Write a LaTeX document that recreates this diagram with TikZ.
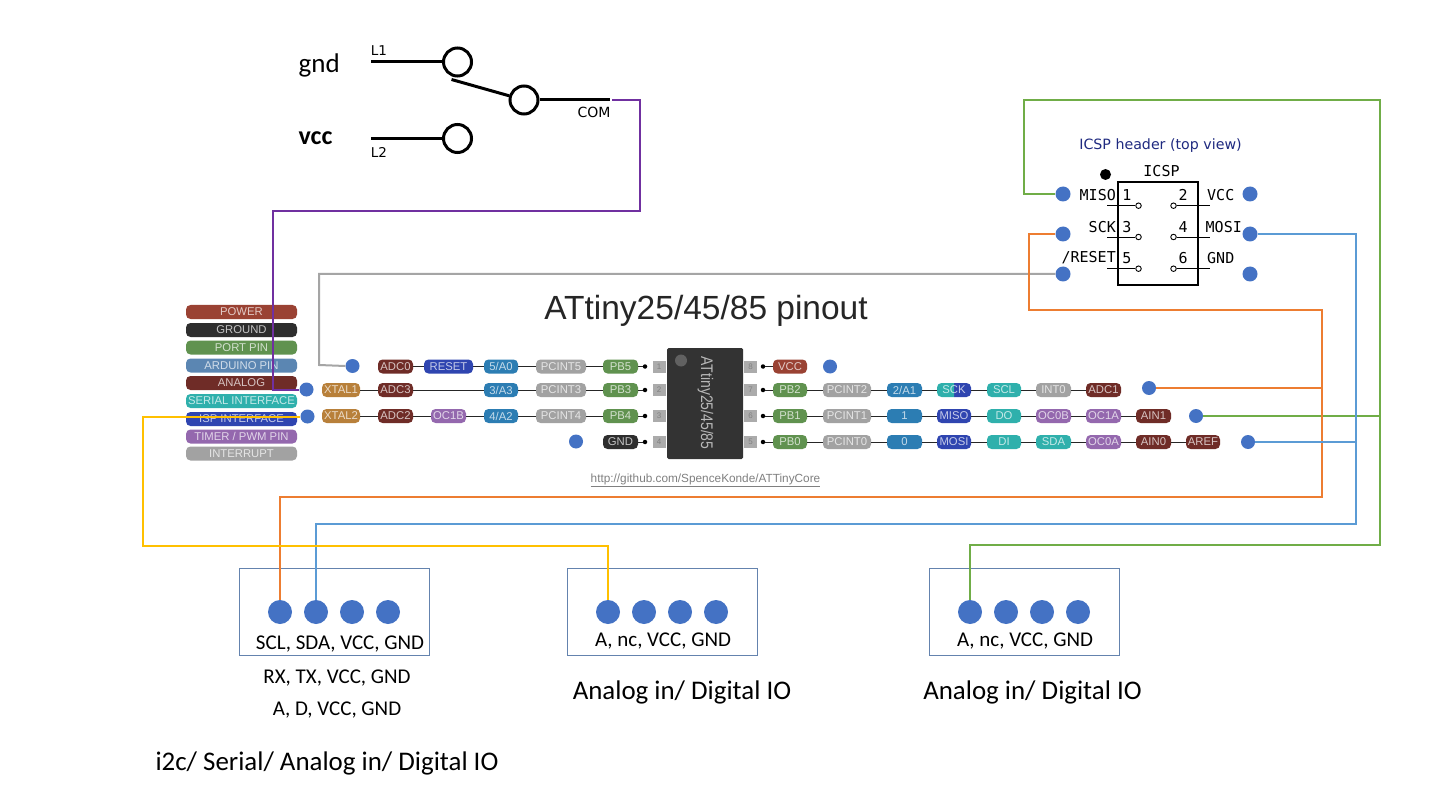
\documentclass[tikz,border=0pt]{standalone}
\usepackage{fontspec}
\setmainfont{Liberation Sans}
\newfontfamily\carl{Carlito}
\newfontfamily\dvs{DejaVu Sans}
\newfontfamily\dvm{DejaVu Sans Mono}
\definecolor{cpower}{HTML}{9A4233}
\definecolor{cground}{HTML}{2E2E2E}
\definecolor{cport}{HTML}{60924F}
\definecolor{carduino}{HTML}{2C7DB3}
\definecolor{clegard}{HTML}{5B86B2}
\definecolor{canalog}{HTML}{6F2C27}
\definecolor{cserial}{HTML}{2FB0AC}
\definecolor{cisp}{HTML}{2F45B0}
\definecolor{ctimer}{HTML}{9468AE}
\definecolor{cint}{HTML}{A2A2A2}
\definecolor{cxtal}{HTML}{B8803A}
\definecolor{cdot}{HTML}{4472C4}
\definecolor{wpurple}{HTML}{7030A0}
\definecolor{wgray}{HTML}{A5A5A5}
\definecolor{wgreen}{HTML}{70AD47}
\definecolor{worange}{HTML}{ED7D31}
\definecolor{wblue}{HTML}{5B9BD5}
\definecolor{wyellow}{HTML}{FFC000}
\definecolor{cbox}{HTML}{6483AE}
\definecolor{cnavy}{HTML}{1F2A80}
\tikzset{
  x=1pt,y=-1pt,
  pill/.style={rounded corners=4.5pt,inner sep=0pt,minimum height=14pt,text=white,text opacity=.72,
     font=\fontsize{11.3}{13}\selectfont},
  wire/.style={line width=2pt,line join=miter},
  rowline/.style={line width=1pt,black!85},
  bdot/.style={circle,fill=cdot,draw=none,inner sep=0pt},
  pindot/.style={circle,fill=black,inner sep=0pt,minimum size=4.5pt},
  pinbox/.style={fill=black!33,inner sep=0pt,minimum width=13pt,minimum height=12pt,text=black!50,font=\fontsize{8}{9}\selectfont},
  sw/.style={circle,draw=black,line width=3pt,fill=none,inner sep=0pt,minimum size=28pt},
  swline/.style={line width=3pt,black},
  hole/.style={circle,draw=black,line width=.9pt,fill=white,inner sep=0pt,minimum size=5.5pt},
  pinlead/.style={line width=.9pt,black},
  mono/.style={inner sep=0pt,font=\dvm\fontsize{15}{16}\selectfont},
  frame/.style={draw=cbox,line width=1pt,inner sep=0pt},
  lab/.style={inner sep=0pt,font=\carl\fontsize{21}{23}\selectfont},
  big/.style={inner sep=0pt,font=\carl\fontsize{26.9}{29}\selectfont},
}
\newcommand{\pp}[6]{\node[pill,fill=#5,minimum width=#3pt-#2pt] (#1) at ({(#2+#3)/2},#4) {#6};}
\begin{document}
\begin{tikzpicture}
\path[use as bounding box,fill=white] (0,0) rectangle (1440,810);

% legend
\pp{lpower}{186}{297}{312}{cpower}{POWER}
\pp{lground}{186}{297}{330}{cground}{GROUND}
\pp{lport}{186}{297}{347.5}{cport}{PORT PIN}
\pp{lard}{186}{297}{365.5}{clegard}{ARDUINO PIN}
\pp{lana}{186}{297}{383}{canalog}{ANALOG}
\pp{lser}{186}{297}{401}{cserial}{SERIAL INTERFACE}
\pp{lisp}{186}{297}{419}{cisp}{ISP INTERFACE}
\pp{ltim}{186}{297}{436.5}{ctimer}{TIMER / PWM PIN}
\pp{lint}{186}{297}{453.5}{cint}{INTERRUPT}

% title, url
\node[inner sep=0pt,text=black!85,font=\fontsize{33.5}{36}\selectfont] (title) at (706,311) {ATtiny25/45/85 pinout};
\node[inner sep=0pt,text=black!50,font=\fontsize{11.8}{13}\selectfont] (url) at (705.5,480) {\underline{http://github.com/SpenceKonde/ATTinyCore}};

% chip
\node[fill=black!80,rounded corners=1.5pt,inner sep=0pt,minimum width=76pt,minimum height=111pt] (chip) at (705,403.5) {};
\node[circle,fill=black!62,inner sep=0pt,minimum size=12pt] (notch) at (681,360.5) {};
\node[inner sep=0pt,rotate=-90,text=black!28,font=\fontsize{14}{16}\selectfont] (chipname) at (705.5,403) {\scalebox{1}[1.2]{ATtiny25/45/85}};

% pin boxes and dots
\foreach \y/\t/\u in {366.5/1/8,390/2/7,416/3/6,442/4/5}{
  \node[pinbox] (pl\t) at (659,\y) {\t};
  \node[pinbox] (pr\u) at (750.5,\y) {\u};
  \node[pindot] (dl\t) at (645,\y) {};
  \node[pindot] (dr\u) at (763,\y) {};
}

% left pills
\pp{adc0}{378}{413}{366.5}{canalog}{ADC0}
\pp{rst}{424}{473}{366.5}{cisp}{RESET}
\pp{afive}{484}{518}{366.5}{carduino}{5/A0}
\pp{pci5}{536}{586}{366.5}{cint}{PCINT5}
\pp{pb5}{603}{638}{366.5}{cport}{PB5}
\pp{xt1}{322}{360}{390}{cxtal}{XTAL1}
\pp{adc3}{378}{413}{390}{canalog}{ADC3}
\pp{athree}{484}{518}{390}{carduino}{3/A3}
\pp{pci3}{536}{586}{390}{cint}{PCINT3}
\pp{pb3}{603}{638}{390}{cport}{PB3}
\pp{xt2}{322}{360}{416}{cxtal}{XTAL2}
\pp{adc2}{378}{413}{416}{canalog}{ADC2}
\pp{oc1b}{431}{466}{416}{ctimer}{OC1B}
\pp{afour}{484}{518}{416}{carduino}{4/A2}
\pp{pci4}{536}{586}{416}{cint}{PCINT4}
\pp{pb4}{603}{638}{416}{cport}{PB4}
\pp{gndp}{603}{638}{442}{cground}{GND}

% right pills
\pp{vccp}{773}{807}{366.5}{cpower}{VCC}
\pp{pb2}{773}{807}{390}{cport}{PB2}
\pp{pci2}{823}{871}{390}{cint}{PCINT2}
\pp{atwo}{887}{922}{390}{carduino}{2/A1}
\begin{scope}
  \clip (954,380) rectangle (975,400);
  \fill[cisp,rounded corners=4.5pt] (937,383) rectangle (971,397);
\end{scope}
\begin{scope}
  \clip (930,380) rectangle (954,400);
  \fill[cserial,rounded corners=4.5pt] (937,383) rectangle (971,397);
\end{scope}
\node[pill,minimum width=34pt] (sck) at (954,390) {SCK};
\pp{scl}{987}{1021}{390}{cserial}{SCL}
\pp{int0}{1036}{1071}{390}{cint}{INT0}
\pp{adc1}{1086}{1121}{390}{canalog}{ADC1}
\pp{pb1}{773}{807}{416}{cport}{PB1}
\pp{pci1}{823}{871}{416}{cint}{PCINT1}
\pp{aone}{887}{922}{416}{carduino}{1}
\pp{miso}{937}{971}{416}{cisp}{MISO}
\pp{dop}{987}{1021}{416}{cserial}{DO}
\pp{oc0b}{1036}{1071}{416}{ctimer}{OC0B}
\pp{oc1a}{1086}{1121}{416}{ctimer}{OC1A}
\pp{ain1}{1136}{1171}{416}{canalog}{AIN1}
\pp{pb0}{773}{807}{442}{cport}{PB0}
\pp{pci0}{823}{871}{442}{cint}{PCINT0}
\pp{azero}{887}{922}{442}{carduino}{0}
\pp{mosi}{937}{971}{442}{cisp}{MOSI}
\pp{dip}{987}{1021}{442}{cserial}{DI}
\pp{sda}{1036}{1071}{442}{cserial}{SDA}
\pp{oc0a}{1086}{1121}{442}{ctimer}{OC0A}
\pp{ain0}{1136}{1171}{442}{canalog}{AIN0}
\pp{aref}{1186}{1220}{442}{canalog}{AREF}

% row lines
\draw[rowline] (adc0)--(rst)--(afive)--(pci5)--(pb5)--(dl1);
\draw[rowline] (xt1)--(adc3)--(athree)--(pci3)--(pb3)--(dl2);
\draw[rowline] (xt2)--(adc2)--(oc1b)--(afour)--(pci4)--(pb4)--(dl3);
\draw[rowline] (gndp)--(dl4);
\draw[rowline] (dr8)--(vccp);
\draw[rowline] (dr7)--(pb2)--(pci2)--(atwo)--(sck)--(scl)--(int0)--(adc1);
\draw[rowline] (dr6)--(pb1)--(pci1)--(aone)--(miso)--(dop)--(oc0b)--(oc1a)--(ain1);
\draw[rowline] (dr5)--(pb0)--(pci0)--(azero)--(mosi)--(dip)--(sda)--(oc0a)--(ain0)--(aref);

% dots on pinout
\node[bdot,minimum size=14pt] (g5) at (352.5,366) {};
\node[bdot,minimum size=14pt] (a3) at (306.5,389.5) {};
\node[bdot,minimum size=14pt] (a2) at (307.5,416.5) {};
\node[bdot,minimum size=14pt] (g) at (576,441.5) {};
\node[bdot,minimum size=14pt] (v) at (830,366.5) {};
\node[bdot,minimum size=14pt] (p2) at (1149,388) {};
\node[bdot,minimum size=14pt] (p1) at (1196,416) {};
\node[bdot,minimum size=14pt] (p0) at (1248,442) {};

% switch
\node[sw] (s1) at (457.5,62) {};
\node[sw] (sc) at (524,100) {};
\node[sw] (s2) at (457.5,138.5) {};
\coordinate (l1end) at (371,62);
\coordinate (l2end) at (371,138.5);
\coordinate (comend) at (610,100);
\coordinate (lever) at (451.5,79.5);
\draw[swline] (l1end)--(s1);
\draw[swline] (l2end)--(s2);
\draw[swline] (sc)--(comend);
\draw[swline] (lever)--(sc);
\node[inner sep=0pt,font=\dvs\fontsize{13.5}{15}\selectfont] (ll1) at (379,50.5) {L1};
\node[inner sep=0pt,font=\dvs\fontsize{13.5}{15}\selectfont] (ll2) at (379,152.5) {L2};
\node[inner sep=0pt,font=\dvs\fontsize{14}{15}\selectfont] (lcom) at (594,112) {COM};
\node[inner sep=0pt,anchor=base west,font=\carl\fontsize{27}{29}\selectfont] (tgnd) at (298.5,73) {gnd};
\node[inner sep=0pt,anchor=base west,font=\carl\bfseries\fontsize{26}{28}\selectfont] (tvcc) at (298.5,145) {vcc};
\coordinate (purplestart) at (612,100);

% ICSP
\node[inner sep=0pt,text=cnavy,font=\dvs\fontsize{14.2}{16}\selectfont] (icsptitle) at (1160.5,146) {ICSP header (top view)};
\node[circle,fill=black,inner sep=0pt,minimum size=11pt] (key) at (1105.5,174.5) {};
\node[draw=black,line width=1.1pt,inner sep=0pt,minimum width=80pt,minimum height=103pt] (hdr) at (1158,233.5) {};
\node[mono] (hname) at (1161.5,171) {ICSP};
\foreach \nm/\y in {a/205.7,b/237,c/268.7}{
  \node[hole] (hl\nm) at (1138.5,\y) {};
  \node[hole] (hr\nm) at (1173.5,\y) {};
  \coordinate (el\nm) at (1107,\y);
  \coordinate (er\nm) at (1210,\y);
  \draw[pinlead] (el\nm)--(hl\nm);
  \draw[pinlead] (hr\nm)--(er\nm);
}
\node[mono,anchor=east] (tmiso) at (1116,195) {MISO};
\node[mono,anchor=east] (tsck) at (1116,227) {SCK};
\node[mono,anchor=east] (trst) at (1116,258) {/RESET};
\node[mono] (n1) at (1127,195) {1};
\node[mono] (n3) at (1127,227) {3};
\node[mono] (n5) at (1127,258) {5};
\node[mono] (n2) at (1183,195) {2};
\node[mono] (n4) at (1183,227) {4};
\node[mono] (n6) at (1183,258) {6};
\node[mono,anchor=west] (tvc) at (1207,195) {VCC};
\node[mono,anchor=west] (tmo) at (1205.5,227) {MOSI};
\node[mono,anchor=west] (tgn) at (1207,258) {GND};
\node[bdot,minimum size=15pt] (hmiso) at (1063,194) {};
\node[bdot,minimum size=15pt] (hsck) at (1063,234) {};
\node[bdot,minimum size=15pt] (hrst) at (1063,274) {};
\node[bdot,minimum size=15pt] (hvcc) at (1250,194) {};
\node[bdot,minimum size=15pt] (hmosi) at (1250,234) {};
\node[bdot,minimum size=15pt] (hgnd) at (1250,274) {};

% connector boxes
\node[frame,minimum width=190pt,minimum height=87pt] (box1) at (334,611.5) {};
\node[frame,minimum width=190pt,minimum height=87pt] (box2) at (662,611.5) {};
\node[frame,minimum width=190pt,minimum height=87pt] (box3) at (1024,611.5) {};
\foreach \nm/\x in {a/280,b/316,c/352,d/388,e/608,f/644,g/680,h/716,i/970,j/1006,k/1042,l/1078}{
  \node[bdot,minimum size=24pt] (k\nm) at (\x,612) {};
}
\node[lab] (t1) at (340,644) {SCL, SDA, VCC, GND};
\node[lab] (t2) at (663,641) {A, nc, VCC, GND};
\node[lab] (t3) at (1025,641) {A, nc, VCC, GND};
\node[lab] (t4) at (337,678) {RX, TX, VCC, GND};
\node[lab] (t5) at (337,710) {A, D, VCC, GND};
\node[big] (t6) at (682,692) {Analog in/ Digital IO};
\node[big] (t7) at (1032.5,692) {Analog in/ Digital IO};
\node[big] (t8) at (327,763) {i2c/ Serial/ Analog in/ Digital IO};

% wires
\draw[wire,wpurple] (purplestart) -| (640,211.5) -| (273,389.5) -- (a3.west);
\draw[wire,wgray] (hrst.west) -| (319,365) -- (g5.west);
\draw[wire,wgreen] (hmiso.west) -| (1024,100) -| (1380,545) -| (ki.north);
\draw[wire,wgreen] (p1.east) -- (1380,416);
\draw[wire,worange] (hsck.west) -| (1029,310) -| (1322,497) -| (ka.north);
\draw[wire,worange] (p2.east) -- (1322,388);
\draw[wire,wblue] (hmosi.east) -| (1356,524) -| (kb.north);
\draw[wire,wblue] (p0.east) -- (1356,442);
\draw[wire,wyellow] (a2.west) -| (143,546) -| (ke.north);
\end{tikzpicture}
\end{document}
